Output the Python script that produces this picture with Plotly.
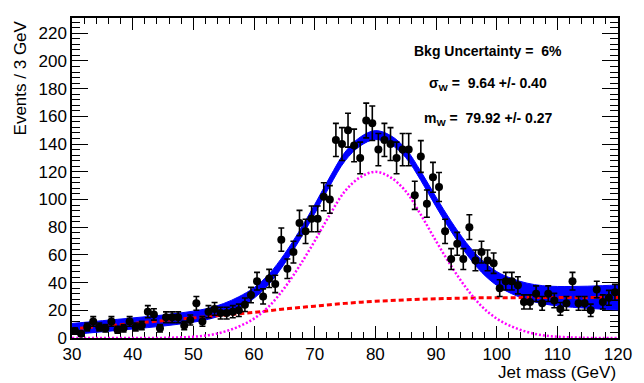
import numpy as np
import plotly.graph_objects as go

# ---- data points (1 GeV bins) ----
mass = [30.5 + i for i in range(90)]
events = [5, 3, 8, 12, 8, 7, 12, 6, 7, 12,
          8, 9, 19, 17, 7, 15, 15, 15, 9, 13,
          25, 12, 19, 21, 18, 18, 19, 20, 24, 31,
          41, 30, 43, 39, 71, 50, 62, 83, 77, 86,
          86, 102, 100, 143, 140, 150, 139, 130, 157, 155,
          136, 143, 140, 130, 136, 136, 103, 131, 97, 116,
          109, 77, 57, 68, 57, 80, 56, 62, 56, 54,
          36, 41, 41, 38, 26, 26, 32, 25, 32, 27,
          21, 25, 41, 25, 25, 20, 35, 26, 29, 33]
errors = np.sqrt(np.array(events, dtype=float))

# ---- fit components (2.5 GeV steps) ----
curve_x = [30 + 2.5 * i for i in range(37)]
signal = [0, 0, 0, 0, 0, 0, 0.1, 0.4, 0.9, 2, 4.4, 8.3, 14, 23, 36, 52, 70, 89, 106,
          116, 120, 116, 106, 89, 70, 52, 36, 23, 14, 8.3, 4.4, 2, 0.9, 0.4, 0.1, 0, 0]
background = [6.5, 7.5, 8.5, 9.5, 10.5, 11.5, 12.5, 13.5, 14.5, 15.5, 16.5, 17.5, 18.5,
              19.7, 21, 22, 23, 24, 25, 25.8, 26.5, 27, 27.5, 28, 28.3, 28.6, 28.8,
              29, 29, 29.1, 29.2, 29.3, 29.3, 29.3, 29.3, 29.3, 29.3]
band_half = [4, 4, 4, 4, 4, 4, 4, 4, 4, 4, 4, 4, 3.8, 3.6, 3.5, 3.4, 3.3, 3.2, 3.2,
             3.2, 3.2, 3.2, 3.2, 3.3, 3.5, 3.7, 4, 4.5, 5, 5.5, 6, 6.5, 7, 7.5, 8, 8.5, 9]

x_ticks = [30, 40, 50, 60, 70, 80, 90, 100, 110, 120]
y_ticks = [0, 20, 40, 60, 80, 100, 120, 140, 160, 180, 200, 220]

total = np.array(signal) + np.array(background)
upper = total + np.array(band_half)
lower = total - np.array(band_half)

fig = go.Figure()
fig.add_trace(go.Scatter(x=curve_x, y=lower, mode="lines", line=dict(color="#0000ff", width=1, shape="spline"),
                         showlegend=False, hoverinfo="skip"))
fig.add_trace(go.Scatter(x=curve_x, y=upper, mode="lines", line=dict(color="#0000ff", width=1, shape="spline"),
                         fill="tonexty", fillcolor="#0000ff", showlegend=False, hoverinfo="skip"))
fig.add_trace(go.Scatter(x=curve_x, y=background, mode="lines",
                         line=dict(color="#ff0000", width=3, dash="5px,3px", shape="spline"),
                         showlegend=False))
fig.add_trace(go.Scatter(x=curve_x, y=signal, mode="lines",
                         line=dict(color="#ff00ff", width=2.5, dash="2px,2px", shape="spline"),
                         showlegend=False))
fig.add_trace(go.Scatter(x=mass, y=events, mode="markers",
                         marker=dict(color="black", size=8, symbol="circle"),
                         error_y=dict(type="data", array=errors, color="black", thickness=1.6, width=3),
                         showlegend=False))

font = "Liberation Sans, Arial, sans-serif"
fig.update_layout(
    width=644, height=383,
    margin=dict(l=72, r=16, t=18, b=45),
    paper_bgcolor="white", plot_bgcolor="white",
    font=dict(family=font, size=17, color="black"),
    xaxis=dict(range=[30, 120], tickvals=x_ticks, ticks="inside", ticklen=12, tickwidth=1,
               tickcolor="black", showline=True, linecolor="black", linewidth=1.5, mirror="ticks",
               showgrid=False, zeroline=False, layer="below traces",
               minor=dict(dtick=2, ticks="inside", ticklen=6, tickcolor="black", showgrid=False)),
    yaxis=dict(range=[0, 231], tickvals=y_ticks, ticks="inside", ticklen=16, tickwidth=1,
               tickcolor="black", showline=True, linecolor="black", linewidth=1.5, mirror="ticks",
               showgrid=False, zeroline=False, layer="below traces",
               minor=dict(dtick=4, ticks="inside", ticklen=8, tickcolor="black", showgrid=False)),
)

fig.add_annotation(text="Events / 3 GeV", xref="paper", yref="paper", x=-52 / 556, y=1.0,
                   xanchor="center", yanchor="top", textangle=-90, showarrow=False,
                   font=dict(size=17, family=font))
fig.add_annotation(text="Jet mass (GeV)", xref="paper", yref="paper", x=1.0, y=-34 / 320,
                   xanchor="right", yanchor="middle", showarrow=False, font=dict(size=17, family=font))

ann_font = dict(size=14, family=font, color="black")
cx = (496 - 72) / 556
for txt, ypix in [("<b>Bkg Uncertainty =  6%</b>", 51),
                  ("<b>σ<sub>W</sub> =  9.64 +/- 0.40</b>", 84),
                  ("<b>m<sub>W</sub> =  79.92 +/- 0.27</b>", 119)]:
    fig.add_annotation(text=txt, xref="paper", yref="paper", x=cx, y=(338 - ypix) / 320,
                       xanchor="center", yanchor="middle", showarrow=False, font=ann_font)

fig.write_html("out.html")
